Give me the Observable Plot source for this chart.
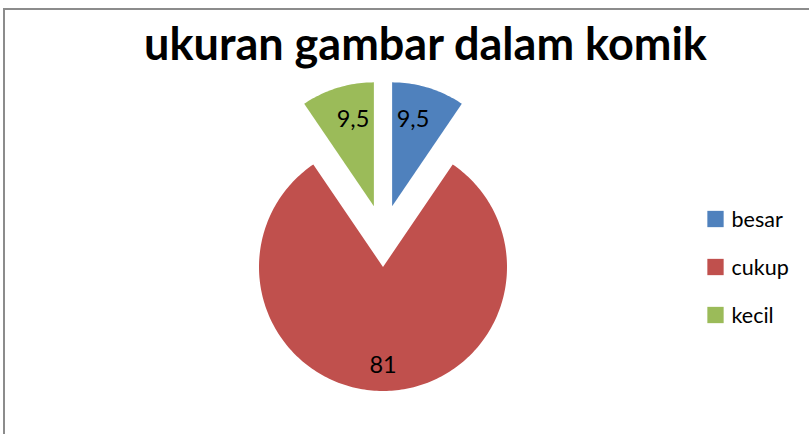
<!DOCTYPE html>
<html>
<head>
<meta charset="utf-8">
<script src="https://cdn.jsdelivr.net/npm/d3@7"></script>
<script src="https://cdn.jsdelivr.net/npm/@observablehq/plot@0.6"></script>
<style>
  html, body { margin: 0; padding: 0; background: #fff; }
  #wrap { position: relative; width: 809px; height: 434px; overflow: hidden; }
  #border { position: absolute; left: 3px; top: 8px; width: 820px; height: 440px;
            border-left: 2px solid #8c8c8c; border-top: 2px solid #8c8c8c; box-sizing: border-box; }
  #wrap svg { position: absolute; left: 0; top: 0; }
</style>
</head>
<body>
<div id="wrap"><div id="border"></div></div>
<script>
const title = "ukuran gambar dalam komik";
const categories = ["besar", "cukup", "kecil"];
const values = [9.5, 81, 9.5];
const labels = ["9,5", "81", "9,5"];
const colors = ["#4F81BD", "#C0504D", "#9BBB59"];

// layout (pixels)
const W = 809, H = 434;
const cx = 382.5, cy = 235.5, R = 124, explode = 31;

// angles: clockwise from 12 o'clock, Excel order
const pie = d3.pie().sort(null).value(d => d.value);
const rows = categories.map((c, i) => ({category: c, value: values[i], label: labels[i]}));
const arcs = pie(rows);

const slicePts = [];
const labelPts = [];
arcs.forEach(a => {
  const mid = (a.startAngle + a.endAngle) / 2;
  const ox = cx + explode * Math.sin(mid);
  const oy = cy - explode * Math.cos(mid);
  const n = Math.max(8, Math.ceil((a.endAngle - a.startAngle) / 0.02));
  slicePts.push({category: a.data.category, x: ox, y: oy});
  for (let k = 0; k <= n; k++) {
    const t = a.startAngle + (a.endAngle - a.startAngle) * k / n;
    slicePts.push({category: a.data.category, x: ox + R * Math.sin(t), y: oy - R * Math.cos(t)});
  }
  slicePts.push({category: a.data.category, x: ox, y: oy});
  const big = a.data.value > 50;
  const lr = big ? 0.79 : 0.73;
  const lm = big ? mid : mid * 0.78 + (mid > Math.PI ? 2 * Math.PI * 0.22 : 0);
  labelPts.push({label: a.data.label, x: ox + lr * R * Math.sin(lm), y: oy - lr * R * Math.cos(lm)});
});

const legendRows = categories.map((c, i) => ({category: c, x: 715, y: 218.5 + i * 48}));

const chart = Plot.plot({
  width: W, height: H,
  margin: 0,
  x: {domain: [0, W], range: [0, W], axis: null},
  y: {domain: [0, H], range: [0, H], axis: null},
  color: {domain: categories, range: colors},
  style: {fontFamily: "Lato, 'Open Sans', sans-serif", background: "transparent"},
  marks: [
    Plot.line(slicePts, {x: "x", y: "y", z: "category", fill: "category", stroke: "none", curve: "linear"}),
    Plot.text(labelPts, {x: "x", y: "y", text: "label", fontSize: 23.5, fill: "#000", textAnchor: "middle", dy: 1}),
    Plot.text([title], {x: 425, y: 45.5, text: d => d, fontSize: 45, fontWeight: "bold", fill: "#000", textAnchor: "middle"}),
    Plot.dot(legendRows, {x: "x", y: "y", fill: "category", symbol: "square", r: 9.2, stroke: "none"}),
    Plot.text(legendRows, {x: "x", y: "y", text: "category", dx: 16, dy: 1, textAnchor: "start", fontSize: 21.5, fill: "#000"})
  ]
});
document.getElementById("wrap").appendChild(chart);
</script>
</body>
</html>
